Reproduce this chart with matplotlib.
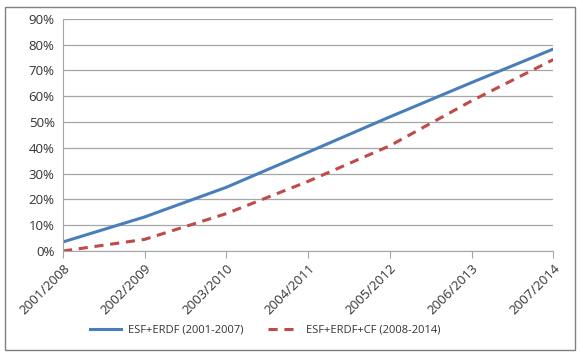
import matplotlib.pyplot as plt
from matplotlib.patches import Rectangle
from matplotlib.ticker import FuncFormatter

# Data
periods = ["2001/2008", "2002/2009", "2003/2010", "2004/2011", "2005/2012", "2006/2013", "2007/2014"]
esf_erdf = [3.5, 13.2, 24.7, 38.3, 52.0, 65.3, 78.3]
esf_erdf_cf = [0.0, 4.5, 14.5, 27.0, 40.8, 58.2, 74.2]

plt.rcParams["font.family"] = ["Open Sans", "DejaVu Sans"]

fig = plt.figure(figsize=(5.83, 3.56), dpi=100)
ax = fig.add_axes([0.108, 0.295, 0.841, 0.652])

x = range(len(periods))
ax.plot(x, esf_erdf, color="#4A7EBB", lw=2.2, label="ESF+ERDF (2001-2007)")
ax.plot(x, esf_erdf_cf, color="#BE4B48", lw=2.2, ls=(0, (3, 2.2)), label="ESF+ERDF+CF (2008-2014)")

ax.set_xlim(0, len(periods) - 1)
ax.set_ylim(0, 90)
ax.set_yticks(range(0, 91, 10))
ax.yaxis.set_major_formatter(FuncFormatter(lambda v, p: f"{v:.0f}%"))
ax.set_xticks(list(x))
ax.set_xticklabels(periods, rotation=45, ha="right", rotation_mode="anchor")

ax.grid(axis="y", color="#A6A6A6", lw=0.9)
ax.set_axisbelow(True)
for s in ["top", "right"]:
    ax.spines[s].set_visible(False)
ax.spines["left"].set_color("#A6A6A6")
ax.spines["bottom"].set_color("#A6A6A6")
ax.tick_params(axis="y", length=0, labelsize=9.5, colors="#333333", pad=6)
ax.tick_params(axis="x", length=5, color="#A6A6A6", labelsize=9.5, labelcolor="#333333", pad=3)

fig.legend(*ax.get_legend_handles_labels(), loc="center", bbox_to_anchor=(0.455, 0.073), ncol=2,
           frameon=False, fontsize=8, handlelength=2.8, handletextpad=0.6, columnspacing=2.2,
           labelcolor="#333333")

# outer chart border
fig.patches.append(Rectangle((5 / 583, 6 / 356), 570 / 583, 343 / 356, transform=fig.transFigure,
                             fill=False, edgecolor="#808080", lw=1))

plt.savefig("out.png", dpi=100)
